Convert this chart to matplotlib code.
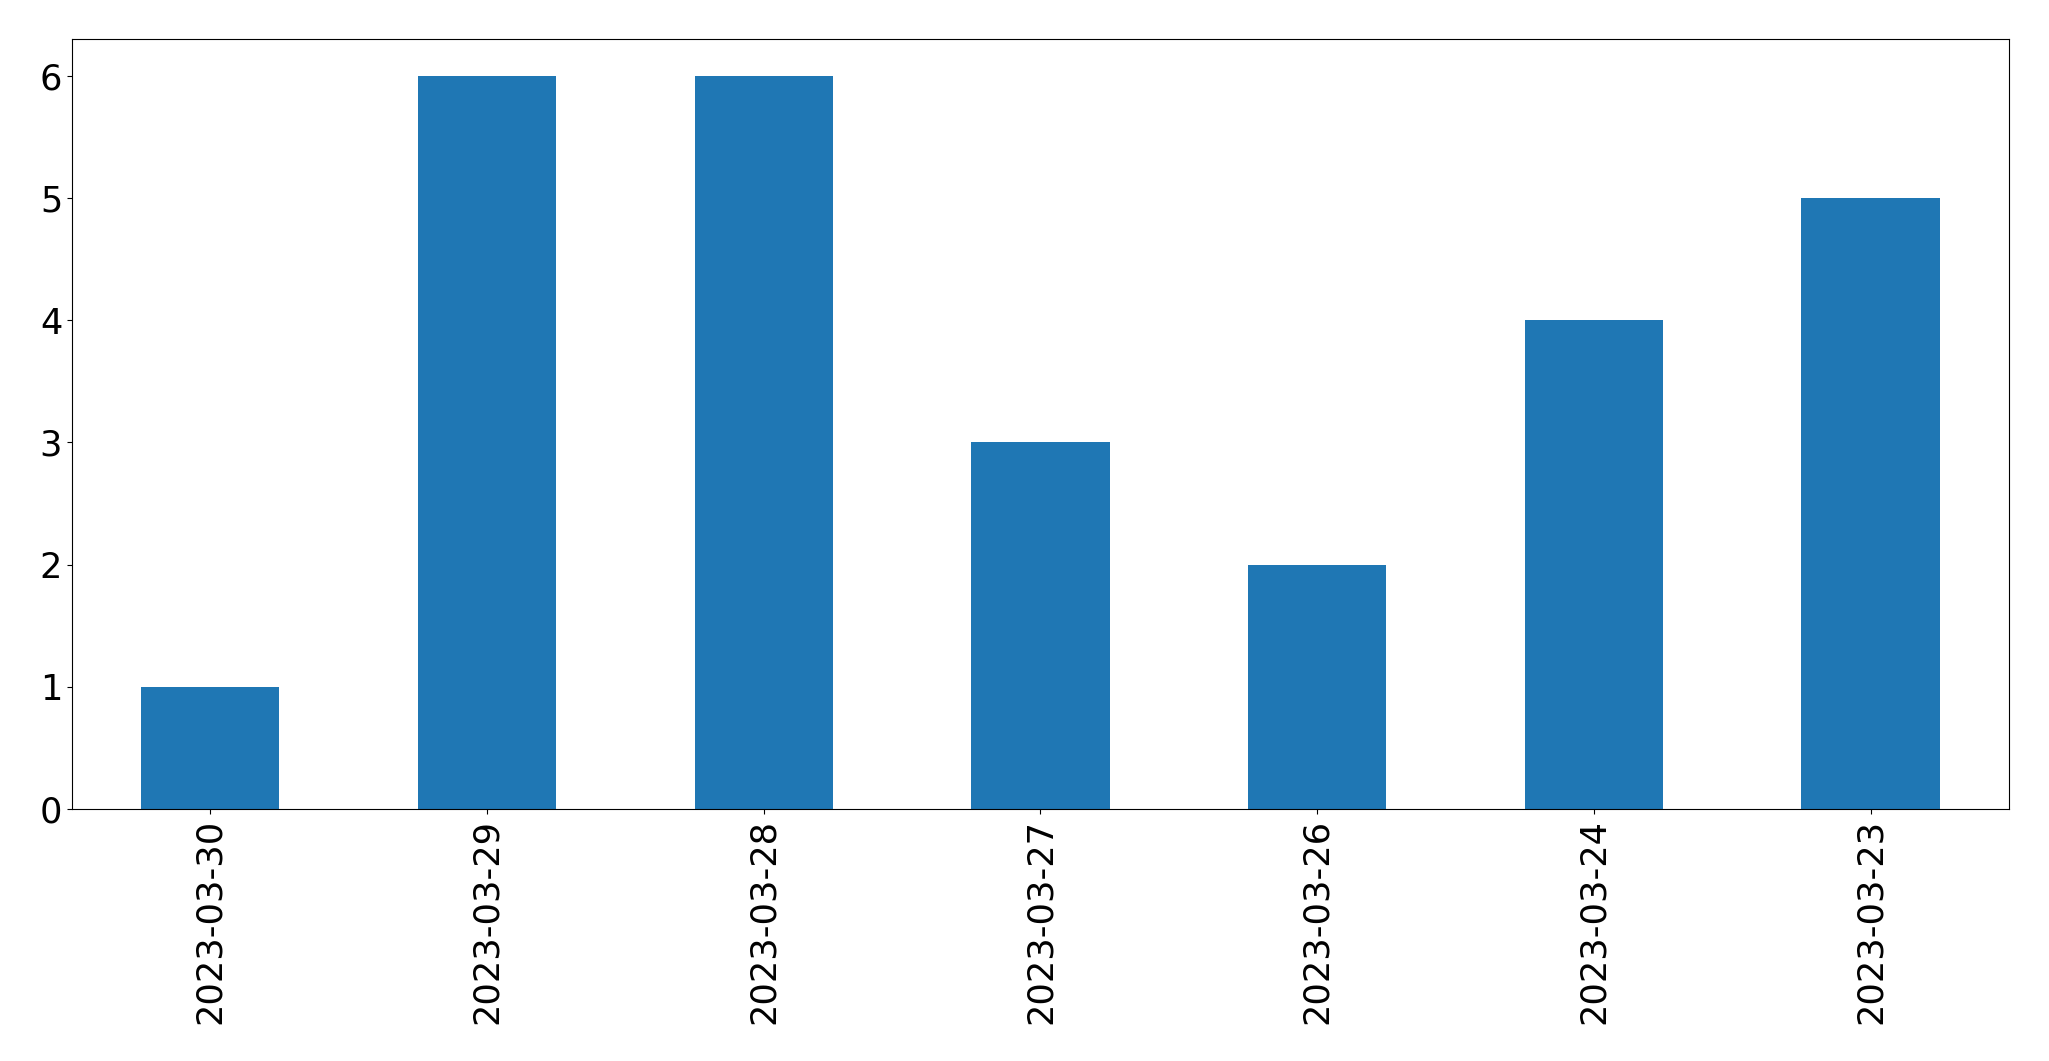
import matplotlib
matplotlib.use('Agg')
import matplotlib.pyplot as plt
import pandas as pd

dates = ['2023-03-30', '2023-03-29', '2023-03-28', '2023-03-27',
         '2023-03-26', '2023-03-24', '2023-03-23']
counts = [1, 6, 6, 3, 2, 4, 5]

s = pd.Series(counts, index=dates)

fig = plt.figure(figsize=(20.49, 10.61), dpi=100)
ax = fig.add_axes([0.0351, 0.2375, 0.9454, 0.7257])
s.plot.bar(ax=ax, color='#1f77b4', width=0.5)
ax.tick_params(axis='both', labelsize=25.3)
ax.set_xticklabels(dates, rotation=90)

fig.savefig('out.png', dpi=100)
